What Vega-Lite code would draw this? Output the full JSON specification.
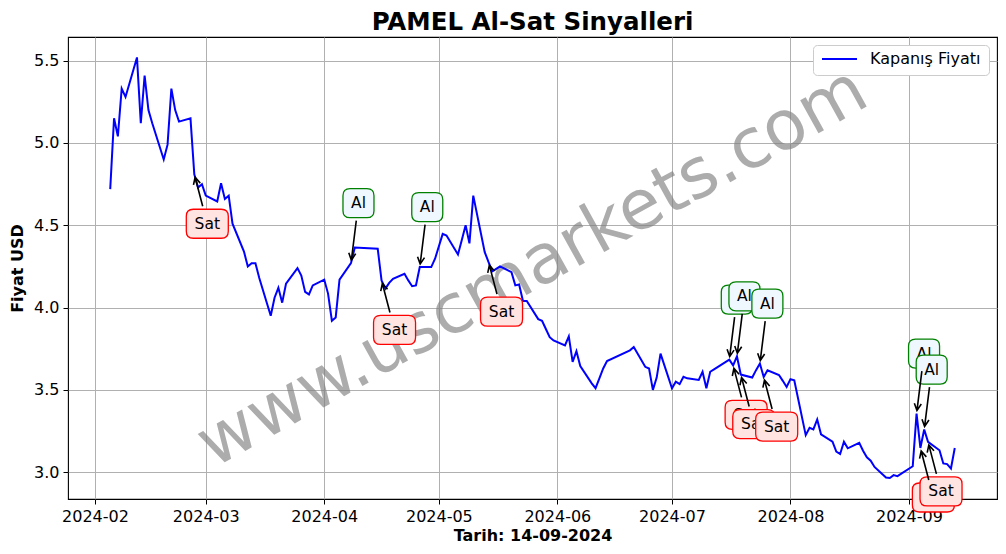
{
  "$schema": "https://vega.github.io/schema/vega-lite/v6.json",
  "width": 929,
  "height": 462,
  "autosize": {"type": "none"},
  "padding": {"left": 68, "top": 37, "right": 9, "bottom": 55},
  "title": {"text": "PAMEL Al-Sat Sinyalleri", "fontSize": 24.5, "fontWeight": "bold", "font": "DejaVu Sans", "color": "black", "anchor": "middle", "frame": "group", "offset": 2},
  "config": {
    "font": "DejaVu Sans",
    "view": {"stroke": "black", "strokeWidth": 1.1},
    "axis": {"labelFont": "DejaVu Sans", "labelFontSize": 16, "labelColor": "black", "titleFont": "DejaVu Sans", "titleFontSize": 16, "titleFontWeight": "bold", "titleColor": "black", "tickColor": "black", "tickSize": 5, "tickWidth": 1, "domain": false, "grid": true, "gridColor": "#b0b0b0", "gridWidth": 1, "labelPadding": 4, "labelFlush": false, "labelOverlap": false},
    "legend": {"labelFont": "DejaVu Sans", "labelFontSize": 16, "labelColor": "black"}
  },
  "datasets": {
    "prices": [
      {"date":"2024-02-05","price":4.72},{"date":"2024-02-06","price":5.15},{"date":"2024-02-07","price":5.04},{"date":"2024-02-08","price":5.33},{"date":"2024-02-09","price":5.28},
      {"date":"2024-02-12","price":5.52},{"date":"2024-02-13","price":5.12},{"date":"2024-02-14","price":5.41},{"date":"2024-02-15","price":5.20},{"date":"2024-02-16","price":5.12},
      {"date":"2024-02-19","price":4.90},{"date":"2024-02-20","price":4.99},{"date":"2024-02-21","price":5.33},{"date":"2024-02-22","price":5.20},{"date":"2024-02-23","price":5.13},
      {"date":"2024-02-26","price":5.15},{"date":"2024-02-27","price":4.81},{"date":"2024-02-28","price":4.73},{"date":"2024-02-29","price":4.75},{"date":"2024-03-01","price":4.68},
      {"date":"2024-03-04","price":4.645},{"date":"2024-03-05","price":4.755},{"date":"2024-03-06","price":4.66},{"date":"2024-03-07","price":4.68},{"date":"2024-03-08","price":4.51},
      {"date":"2024-03-11","price":4.34},{"date":"2024-03-12","price":4.25},{"date":"2024-03-13","price":4.27},{"date":"2024-03-14","price":4.27},{"date":"2024-03-15","price":4.18},
      {"date":"2024-03-18","price":3.95},{"date":"2024-03-19","price":4.06},{"date":"2024-03-20","price":4.12},{"date":"2024-03-21","price":4.03},{"date":"2024-03-22","price":4.145},
      {"date":"2024-03-25","price":4.24},{"date":"2024-03-26","price":4.195},{"date":"2024-03-27","price":4.095},{"date":"2024-03-28","price":4.08},{"date":"2024-03-29","price":4.135},
      {"date":"2024-04-01","price":4.17},{"date":"2024-04-02","price":4.085},{"date":"2024-04-03","price":3.92},{"date":"2024-04-04","price":3.94},{"date":"2024-04-05","price":4.17},
      {"date":"2024-04-08","price":4.27},{"date":"2024-04-09","price":4.365},{"date":"2024-04-15","price":4.357},{"date":"2024-04-16","price":4.165},{"date":"2024-04-17","price":4.115},
      {"date":"2024-04-18","price":4.15},{"date":"2024-04-19","price":4.175},{"date":"2024-04-22","price":4.205},{"date":"2024-04-23","price":4.165},{"date":"2024-04-24","price":4.13},
      {"date":"2024-04-25","price":4.135},{"date":"2024-04-26","price":4.246},{"date":"2024-04-29","price":4.246},{"date":"2024-04-30","price":4.297},{"date":"2024-05-02","price":4.448},
      {"date":"2024-05-03","price":4.438},{"date":"2024-05-06","price":4.323},{"date":"2024-05-07","price":4.41},{"date":"2024-05-08","price":4.50},{"date":"2024-05-09","price":4.39},
      {"date":"2024-05-10","price":4.68},{"date":"2024-05-13","price":4.337},{"date":"2024-05-14","price":4.276},{"date":"2024-05-15","price":4.22},{"date":"2024-05-16","price":4.235},
      {"date":"2024-05-17","price":4.25},{"date":"2024-05-20","price":4.215},{"date":"2024-05-21","price":4.135},{"date":"2024-05-22","price":4.14},{"date":"2024-05-23","price":4.04},
      {"date":"2024-05-24","price":4.04},{"date":"2024-05-27","price":3.93},{"date":"2024-05-28","price":3.92},{"date":"2024-05-29","price":3.87},{"date":"2024-05-30","price":3.82},
      {"date":"2024-05-31","price":3.80},{"date":"2024-06-03","price":3.77},{"date":"2024-06-04","price":3.825},{"date":"2024-06-05","price":3.67},{"date":"2024-06-06","price":3.735},
      {"date":"2024-06-07","price":3.645},{"date":"2024-06-10","price":3.54},{"date":"2024-06-11","price":3.51},{"date":"2024-06-12","price":3.57},{"date":"2024-06-13","price":3.63},
      {"date":"2024-06-14","price":3.675},{"date":"2024-06-20","price":3.74},{"date":"2024-06-21","price":3.76},{"date":"2024-06-24","price":3.64},{"date":"2024-06-25","price":3.63},
      {"date":"2024-06-26","price":3.50},{"date":"2024-06-27","price":3.575},{"date":"2024-06-28","price":3.72},{"date":"2024-07-01","price":3.51},{"date":"2024-07-02","price":3.55},
      {"date":"2024-07-03","price":3.535},{"date":"2024-07-04","price":3.58},{"date":"2024-07-05","price":3.57},{"date":"2024-07-08","price":3.56},{"date":"2024-07-09","price":3.61},
      {"date":"2024-07-10","price":3.51},{"date":"2024-07-11","price":3.61},{"date":"2024-07-12","price":3.625},{"date":"2024-07-16","price":3.684},{"date":"2024-07-17","price":3.649},
      {"date":"2024-07-18","price":3.704},{"date":"2024-07-19","price":3.593},{"date":"2024-07-22","price":3.575},{"date":"2024-07-23","price":3.62},{"date":"2024-07-24","price":3.66},
      {"date":"2024-07-25","price":3.578},{"date":"2024-07-26","price":3.619},{"date":"2024-07-29","price":3.59},{"date":"2024-07-30","price":3.555},{"date":"2024-07-31","price":3.518},
      {"date":"2024-08-01","price":3.565},{"date":"2024-08-02","price":3.558},{"date":"2024-08-05","price":3.225},{"date":"2024-08-06","price":3.27},{"date":"2024-08-07","price":3.26},
      {"date":"2024-08-08","price":3.32},{"date":"2024-08-09","price":3.23},{"date":"2024-08-12","price":3.185},{"date":"2024-08-13","price":3.125},{"date":"2024-08-14","price":3.11},
      {"date":"2024-08-15","price":3.185},{"date":"2024-08-16","price":3.145},{"date":"2024-08-19","price":3.178},{"date":"2024-08-20","price":3.13},{"date":"2024-08-21","price":3.09},
      {"date":"2024-08-22","price":3.07},{"date":"2024-08-23","price":3.032},{"date":"2024-08-26","price":2.968},{"date":"2024-08-27","price":2.965},{"date":"2024-08-28","price":2.982},
      {"date":"2024-08-29","price":2.976},{"date":"2024-09-02","price":3.036},{"date":"2024-09-03","price":3.356},{"date":"2024-09-04","price":3.147},{"date":"2024-09-05","price":3.259},
      {"date":"2024-09-06","price":3.184},{"date":"2024-09-09","price":3.133},{"date":"2024-09-10","price":3.053},{"date":"2024-09-11","price":3.049},{"date":"2024-09-12","price":3.022},
      {"date":"2024-09-13","price":3.147}
    ],
    "signals": [
      {"date":"2024-02-27","price":4.81,"signal":"Sat"},
      {"date":"2024-04-08","price":4.27,"signal":"Al"},
      {"date":"2024-04-16","price":4.165,"signal":"Sat"},
      {"date":"2024-04-26","price":4.246,"signal":"Al"},
      {"date":"2024-05-14","price":4.276,"signal":"Sat"},
      {"date":"2024-07-16","price":3.684,"signal":"Al"},
      {"date":"2024-07-17","price":3.649,"signal":"Sat"},
      {"date":"2024-07-18","price":3.704,"signal":"Al"},
      {"date":"2024-07-19","price":3.593,"signal":"Sat"},
      {"date":"2024-07-24","price":3.66,"signal":"Al"},
      {"date":"2024-07-25","price":3.578,"signal":"Sat"},
      {"date":"2024-09-03","price":3.356,"signal":"Al"},
      {"date":"2024-09-04","price":3.147,"signal":"Sat"},
      {"date":"2024-09-05","price":3.259,"signal":"Al"},
      {"date":"2024-09-06","price":3.184,"signal":"Sat"}
    ]
  },
  "encoding": {
    "x": {"field": "date", "type": "temporal",
      "scale": {"type": "utc", "domain": [{"year": 2024, "month": "jan", "date": 24, "hours": 22, "minutes": 48, "utc": true}, {"year": 2024, "month": "sep", "date": 24, "hours": 1, "minutes": 12, "utc": true}]},
      "axis": {"title": "Tarih: 14-09-2024", "format": "%Y-%m", "titlePadding": 3,
        "values": [{"year":2024,"month":"feb","date":1,"utc":true},{"year":2024,"month":"mar","date":1,"utc":true},{"year":2024,"month":"apr","date":1,"utc":true},{"year":2024,"month":"may","date":1,"utc":true},{"year":2024,"month":"jun","date":1,"utc":true},{"year":2024,"month":"jul","date":1,"utc":true},{"year":2024,"month":"aug","date":1,"utc":true},{"year":2024,"month":"sep","date":1,"utc":true}]}},
    "y": {"field": "price", "type": "quantitative",
      "scale": {"domain": [2.837, 5.644], "zero": false, "nice": false},
      "axis": {"title": "Fiyat USD", "values": [3, 3.5, 4, 4.5, 5, 5.5], "format": ".1f", "titlePadding": 8}}
  },
  "layer": [
    {
      "data": {"name": "prices", "format": {"parse": {"date": "date"}}},
      "transform": [
        {"aggregate": [{"op": "min", "field": "date", "as": "d0"}, {"op": "max", "field": "date", "as": "d1"}, {"op": "min", "field": "price", "as": "p0"}, {"op": "max", "field": "price", "as": "p1"}]},
        {"calculate": "(time(datum.d0) + time(datum.d1)) / 2", "as": "date"},
        {"calculate": "(datum.p0 + datum.p1) / 2", "as": "price"}
      ],
      "mark": {"type": "text", "text": "www.uscmarkets.com", "fontSize": 69, "font": "DejaVu Sans", "angle": 331, "align": "center", "baseline": "middle", "fill": "#808080", "opacity": 0.65}
    },
    {
      "data": {"name": "prices", "format": {"parse": {"date": "date"}}},
      "mark": {"type": "line", "strokeWidth": 2},
      "encoding": {
        "color": {"datum": "Kapanış Fiyatı", "type": "nominal", "scale": {"range": ["#0000ff"]},
          "legend": {"title": null, "orient": "top-right", "offset": 8, "padding": 8, "symbolType": "stroke", "symbolSize": 1225, "symbolStrokeWidth": 2, "labelOffset": 12, "strokeColor": "#cccccc", "fillColor": "white", "cornerRadius": 4, "clipHeight": 12}}
      }
    },
    {
      "data": {"name": "signals", "format": {"parse": {"date": "date"}}},
      "transform": [{"filter": "indexof(['2024-07-18','2024-07-19','2024-09-05','2024-09-06','2024-07-24','2024-07-25'], utcFormat(datum.date,'%Y-%m-%d')) < 0"}],
      "mark": {"type": "point", "filled": true, "opacity": 1, "strokeWidth": 1.3, "size": 10000},
      "encoding": {
        "shape": {"field": "signal", "type": "nominal", "legend": null, "scale": {"domain": ["Al", "Sat"], "range": ["M -0.02,-1.49 L 0.32,-1.49 Q 0.46,-1.49 0.46,-1.35 L 0.46,-1.05 Q 0.46,-0.91 0.32,-0.91 L -0.02,-0.91 Q -0.16,-0.91 -0.16,-1.05 L -0.16,-1.35 Q -0.16,-1.49 -0.02,-1.49 Z", "M -0.02,0.7 L 0.54,0.7 Q 0.68,0.7 0.68,0.84 L 0.68,1.14 Q 0.68,1.28 0.54,1.28 L -0.02,1.28 Q -0.16,1.28 -0.16,1.14 L -0.16,0.84 Q -0.16,0.7 -0.02,0.7 Z"]}},
        "fill": {"field": "signal", "type": "nominal", "legend": null, "scale": {"domain": ["Al", "Sat"], "range": ["#f0f8ff", "#ffe4e1"]}},
        "stroke": {"field": "signal", "type": "nominal", "legend": null, "scale": {"domain": ["Al", "Sat"], "range": ["#008000", "#ff0000"]}}
      }
    },
    {
      "data": {"name": "signals", "format": {"parse": {"date": "date"}}},
      "transform": [{"filter": "datum.signal == 'Al' && indexof(['2024-07-18','2024-07-19','2024-09-05','2024-09-06','2024-07-24','2024-07-25'], utcFormat(datum.date,'%Y-%m-%d')) < 0"}],
      "mark": {"type": "text", "fontSize": 15.5, "align": "center", "baseline": "middle", "dx": 7.5, "dy": -60, "color": "black"},
      "encoding": {"text": {"field": "signal"}}
    },
    {
      "data": {"name": "signals", "format": {"parse": {"date": "date"}}},
      "transform": [{"filter": "datum.signal == 'Sat' && indexof(['2024-07-18','2024-07-19','2024-09-05','2024-09-06','2024-07-24','2024-07-25'], utcFormat(datum.date,'%Y-%m-%d')) < 0"}],
      "mark": {"type": "text", "fontSize": 15.5, "align": "center", "baseline": "middle", "dx": 13, "dy": 49.5, "color": "black"},
      "encoding": {"text": {"field": "signal"}}
    },
    {
      "data": {"name": "signals", "format": {"parse": {"date": "date"}}},
      "transform": [{"filter": "indexof(['2024-07-18','2024-07-19','2024-09-05','2024-09-06'], utcFormat(datum.date,'%Y-%m-%d')) >= 0"}],
      "mark": {"type": "point", "filled": true, "opacity": 1, "strokeWidth": 1.3, "size": 10000},
      "encoding": {
        "shape": {"field": "signal", "type": "nominal", "legend": null, "scale": {"domain": ["Al", "Sat"], "range": ["M -0.02,-1.49 L 0.32,-1.49 Q 0.46,-1.49 0.46,-1.35 L 0.46,-1.05 Q 0.46,-0.91 0.32,-0.91 L -0.02,-0.91 Q -0.16,-0.91 -0.16,-1.05 L -0.16,-1.35 Q -0.16,-1.49 -0.02,-1.49 Z", "M -0.02,0.7 L 0.54,0.7 Q 0.68,0.7 0.68,0.84 L 0.68,1.14 Q 0.68,1.28 0.54,1.28 L -0.02,1.28 Q -0.16,1.28 -0.16,1.14 L -0.16,0.84 Q -0.16,0.7 -0.02,0.7 Z"]}},
        "fill": {"field": "signal", "type": "nominal", "legend": null, "scale": {"domain": ["Al", "Sat"], "range": ["#f0f8ff", "#ffe4e1"]}},
        "stroke": {"field": "signal", "type": "nominal", "legend": null, "scale": {"domain": ["Al", "Sat"], "range": ["#008000", "#ff0000"]}}
      }
    },
    {
      "data": {"name": "signals", "format": {"parse": {"date": "date"}}},
      "transform": [{"filter": "datum.signal == 'Al' && indexof(['2024-07-18','2024-07-19','2024-09-05','2024-09-06'], utcFormat(datum.date,'%Y-%m-%d')) >= 0"}],
      "mark": {"type": "text", "fontSize": 15.5, "align": "center", "baseline": "middle", "dx": 7.5, "dy": -60, "color": "black"},
      "encoding": {"text": {"field": "signal"}}
    },
    {
      "data": {"name": "signals", "format": {"parse": {"date": "date"}}},
      "transform": [{"filter": "datum.signal == 'Sat' && indexof(['2024-07-18','2024-07-19','2024-09-05','2024-09-06'], utcFormat(datum.date,'%Y-%m-%d')) >= 0"}],
      "mark": {"type": "text", "fontSize": 15.5, "align": "center", "baseline": "middle", "dx": 13, "dy": 49.5, "color": "black"},
      "encoding": {"text": {"field": "signal"}}
    },
    {
      "data": {"name": "signals", "format": {"parse": {"date": "date"}}},
      "transform": [{"filter": "indexof(['2024-07-24','2024-07-25'], utcFormat(datum.date,'%Y-%m-%d')) >= 0"}],
      "mark": {"type": "point", "filled": true, "opacity": 1, "strokeWidth": 1.3, "size": 10000},
      "encoding": {
        "shape": {"field": "signal", "type": "nominal", "legend": null, "scale": {"domain": ["Al", "Sat"], "range": ["M -0.02,-1.49 L 0.32,-1.49 Q 0.46,-1.49 0.46,-1.35 L 0.46,-1.05 Q 0.46,-0.91 0.32,-0.91 L -0.02,-0.91 Q -0.16,-0.91 -0.16,-1.05 L -0.16,-1.35 Q -0.16,-1.49 -0.02,-1.49 Z", "M -0.02,0.7 L 0.54,0.7 Q 0.68,0.7 0.68,0.84 L 0.68,1.14 Q 0.68,1.28 0.54,1.28 L -0.02,1.28 Q -0.16,1.28 -0.16,1.14 L -0.16,0.84 Q -0.16,0.7 -0.02,0.7 Z"]}},
        "fill": {"field": "signal", "type": "nominal", "legend": null, "scale": {"domain": ["Al", "Sat"], "range": ["#f0f8ff", "#ffe4e1"]}},
        "stroke": {"field": "signal", "type": "nominal", "legend": null, "scale": {"domain": ["Al", "Sat"], "range": ["#008000", "#ff0000"]}}
      }
    },
    {
      "data": {"name": "signals", "format": {"parse": {"date": "date"}}},
      "transform": [{"filter": "datum.signal == 'Al' && indexof(['2024-07-24','2024-07-25'], utcFormat(datum.date,'%Y-%m-%d')) >= 0"}],
      "mark": {"type": "text", "fontSize": 15.5, "align": "center", "baseline": "middle", "dx": 7.5, "dy": -60, "color": "black"},
      "encoding": {"text": {"field": "signal"}}
    },
    {
      "data": {"name": "signals", "format": {"parse": {"date": "date"}}},
      "transform": [{"filter": "datum.signal == 'Sat' && indexof(['2024-07-24','2024-07-25'], utcFormat(datum.date,'%Y-%m-%d')) >= 0"}],
      "mark": {"type": "text", "fontSize": 15.5, "align": "center", "baseline": "middle", "dx": 13, "dy": 49.5, "color": "black"},
      "encoding": {"text": {"field": "signal"}}
    },
    {
      "data": {"name": "signals", "format": {"parse": {"date": "date"}}},
      "transform": [{"filter": "datum.signal == 'Al'"}],
      "mark": {"type": "point", "filled": false, "opacity": 1, "stroke": "black", "strokeWidth": 1.6, "size": 10000,
        "shape": "M 0.106,-0.85 L 0.008,-0.06 M 0.0947,-0.1903 L 0.008,-0.06 L -0.0442,-0.2075"}
    },
    {
      "data": {"name": "signals", "format": {"parse": {"date": "date"}}},
      "transform": [{"filter": "datum.signal == 'Sat'"}],
      "mark": {"type": "point", "filled": false, "opacity": 1, "stroke": "black", "strokeWidth": 1.6, "size": 10000,
        "shape": "M 0.168,0.64 L 0.016,0.06 M 0.1192,0.1777 L 0.016,0.06 L -0.0162,0.2132"}
    }
  ]
}
